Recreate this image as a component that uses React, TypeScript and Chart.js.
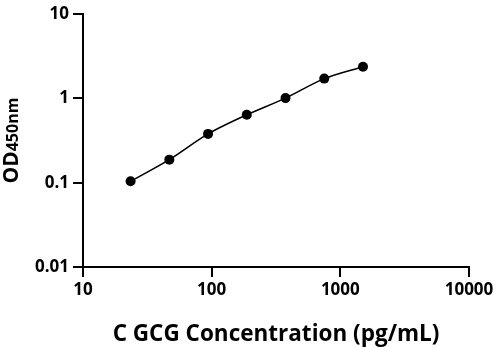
import React, { useEffect, useRef } from "react";
import { Chart, registerables } from "chart.js";
Chart.register(...registerables);

const concentrations = [23.44, 46.88, 93.75, 187.5, 375, 750, 1500];
const odValues = [0.104, 0.188, 0.38, 0.64, 1.01, 1.72, 2.38];
const xTicks = [10, 100, 1000, 10000];
const yTicks = [0.01, 0.1, 1, 10];
const xTitle = "C GCG Concentration (pg/mL)";
const yTitleMain = "OD";
const yTitleSub = "450nm";

const FONT = "'Open Sans', 'DejaVu Sans', sans-serif";

export default function App() {
  const ref = useRef<HTMLCanvasElement>(null);
  useEffect(() => {
    document.body.style.margin = "0";
    const titles = {
      id: "titles",
      afterDraw(chart: any) {
        const { ctx, chartArea } = chart;
        ctx.save();
        ctx.fillStyle = "#000";
        ctx.font = `bold 22.5px ${FONT}`;
        ctx.textAlign = "center";
        ctx.textBaseline = "alphabetic";
        ctx.fillText(xTitle, (chartArea.left + chartArea.right) / 2, 341);
        ctx.translate(18, (chartArea.top + chartArea.bottom) / 2);
        ctx.rotate(-Math.PI / 2);
        ctx.font = `bold 21px ${FONT}`;
        const w1 = ctx.measureText(yTitleMain).width;
        ctx.font = `bold 16px ${FONT}`;
        const w2 = ctx.measureText(yTitleSub).width;
        const start = -(w1 + w2) / 2;
        ctx.textAlign = "left";
        ctx.font = `bold 21px ${FONT}`;
        ctx.fillText(yTitleMain, start, 0);
        ctx.font = `bold 16px ${FONT}`;
        ctx.fillText(yTitleSub, start + w1, 0);
        ctx.restore();
      },
    };
    const axisCommon = {
      type: "logarithmic" as const,
      border: { color: "#000", width: 2 },
      grid: {
        display: true,
        drawOnChartArea: false,
        drawTicks: true,
        tickLength: 10,
        color: "#000",
        lineWidth: 2,
      },
    };
    const chart = new Chart(ref.current!, {
      type: "line",
      data: {
        datasets: [
          {
            data: concentrations.map((x, i) => ({ x, y: odValues[i] })),
            borderColor: "#000",
            backgroundColor: "#000",
            borderWidth: 1.6,
            pointRadius: 5,
            pointBorderWidth: 0,
            pointBackgroundColor: "#000",
            tension: 0.3,
          },
        ],
      },
      options: {
        animation: false,
        responsive: false,
        plugins: { legend: { display: false }, tooltip: { enabled: false } },
        layout: { padding: { top: 10, right: 30, left: 0, bottom: 0 } },
        scales: {
          x: {
            ...axisCommon,
            min: 10,
            max: 10000,
            afterFit: (s: any) => {
              s.height = 81;
            },
            afterBuildTicks: (s: any) => {
              s.ticks = xTicks.map((v) => ({ value: v }));
            },
            ticks: {
              color: "#000",
              font: { family: FONT, size: 17, weight: "bold" },
              padding: 3,
              maxRotation: 0,
              autoSkip: false,
              callback: (v: any) => String(v),
            },
          },
          y: {
            ...axisCommon,
            min: 0.01,
            max: 10,
            afterFit: (s: any) => {
              s.width = 83;
            },
            afterBuildTicks: (s: any) => {
              s.ticks = yTicks.map((v) => ({ value: v }));
            },
            ticks: {
              color: "#000",
              font: { family: FONT, size: 17, weight: "bold" },
              padding: 4,
              autoSkip: false,
              callback: (v: any) => String(v),
            },
          },
        },
      },
      plugins: [titles],
    });
    return () => chart.destroy();
  }, []);
  return (
    <div style={{ position: "fixed", left: 0, top: 0, width: 499, height: 348, background: "#fff" }}>
      <canvas ref={ref} width={499} height={348} style={{ width: 499, height: 348 }} />
    </div>
  );
}
